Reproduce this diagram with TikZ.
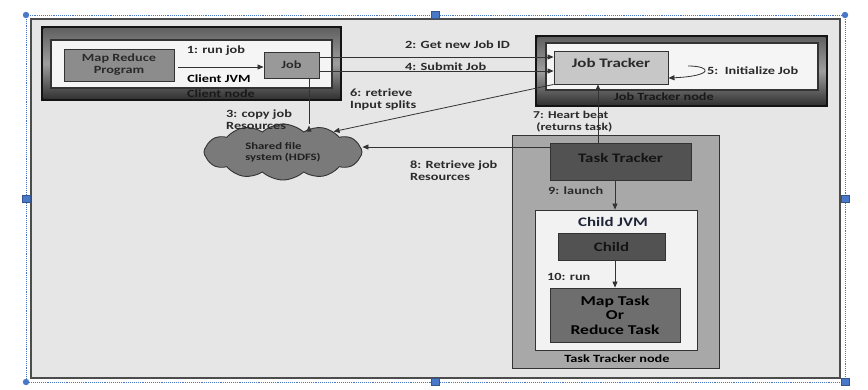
\documentclass[tikz,border=0pt]{standalone}
\usepackage{fontspec}
\setmainfont{Carlito}[FakeStretch=1.3]
\usetikzlibrary{arrows.meta,shapes.symbols,calc}
\definecolor{bg}{HTML}{E6E6E6}
\definecolor{ln}{HTML}{333333}
\definecolor{txt}{HTML}{2A2A2A}
\definecolor{selb}{HTML}{4A78C8}
\definecolor{navy}{HTML}{1E2538}
\begin{document}
\begin{tikzpicture}[x=1pt,y=-1pt,
  lbl/.style={font=\fontsize{11}{12}\selectfont\bfseries, text=txt, inner sep=0pt, align=left},
  arr/.style={draw=ln, line width=0.8pt, -{Triangle[length=6pt,width=5pt]}},
  box/.style={draw=ln, line width=0.9pt, inner sep=0pt, text=txt},
  inbox/.style={draw=black!80, line width=1.1pt, fill=white!96!black, inner sep=0pt},
  bevel/.style={top color=black!62, bottom color=black!80, middle color=black!38},
  handlesq/.style={fill=selb, draw=selb!70!black, line width=0.3pt},
  bigtxt/.style={font=\fontsize{13}{14}\selectfont\bfseries}]
\useasboundingbox (0,0) rectangle (868,389);
\fill[white] (0,0) rectangle (868,389);
% canvas
\fill[bg] (31,19) rectangle (840,378);
\draw[black!70, line width=1.2pt] (31,19) rectangle (840,378);
% selection frame
\draw[selb, line width=0.9pt, densely dotted] (26,15) rectangle (845,382);
\foreach \p in {(26,15),(845,15),(26,382)} \fill[selb] \p circle (3.2);
\foreach \p in {(435,15),(26,199),(845,199),(435,382),(845,382)}
  \filldraw[handlesq] \p ++(-4,-3.5) rectangle ++(8,7);

% Client node
\fill[black!92] (41,26) rectangle (342,101);
\shade[bevel] (43.5,28.5) rectangle (339.5,98.5);
\node[inbox, minimum width=281, minimum height=48] (cjv) at (191.5,64) {};
\node[lbl, text=black!90] (cnl) at (221,94) {Client node};
\node[box, fill=black!45, minimum width=110, minimum height=32, align=center, font=\fontsize{11}{12}\selectfont\bfseries] (mrp) at (119,65) {Map Reduce\\Program};
\node[box, fill=black!40, minimum width=55, minimum height=26, font=\fontsize{11}{12}\selectfont\bfseries] (job) at (291.5,65) {Job};
\node[lbl] (l1) at (216,51) {1: run job};
\node[lbl, text=black] (l1b) at (219,79) {Client JVM};
\draw[arr] (mrp.east |- 0,67) ++(4,0) coordinate (a1) -- (job.west |- a1);

% Job Tracker node
\fill[black!92] (535,35) rectangle (828,107);
\shade[bevel] (537.5,37.5) rectangle (825.5,104.5);
\node[inbox, minimum width=272, minimum height=47] (jtn) at (682,66.5) {};
\node[lbl, text=black!90] (jtl) at (664,97) {Job Tracker node};
\node[box, fill=black!22, minimum width=114, minimum height=33, bigtxt, text depth=9pt] (jt) at (611,67.5) {Job Tracker};
\node[lbl, anchor=west] (l5) at (707,71) {5:\ \ Initialize Job};
\draw[arr] (l5.west) ++(-19,-5) coordinate (c5) .. controls (712,66) and (714,76) .. (jt.east |- 0,78);

% Job -> Job Tracker
\draw[arr] (job.east |- 0,57) -- (jt.west |- 0,57);
\draw[arr] (job.east |- 0,71) -- (jt.west |- 0,71);
\node[lbl, anchor=west] (l2) at (405,45) {2: Get new Job ID};
\node[lbl, anchor=west] (l4) at (405,67) {4: Submit Job};

% HDFS
\node[cloud, cloud puffs=12, cloud puff arc=85, cloud ignores aspect, draw=ln, line width=0.9pt, fill=black!52,
  minimum width=158, minimum height=56, inner sep=0pt, align=left,
  font=\fontsize{9.8}{11}\selectfont\bfseries, text=black!88] (hdfs) at (283,152) {Shared file\\system (HDFS)};
\draw[arr] (job.south -| 309,0) -- (hdfs.north -| 309,0) ++(0,2);
\node[lbl, anchor=west] (l3) at (226,120) {3: copy job\\Resources};
\draw[arr] (jt.south west) -- (hdfs.22);
\node[lbl, anchor=west] (l6) at (350,99.5) {6: retrieve\\Input splits};

% Task Tracker node
\node[box, fill=black!34, minimum width=207, minimum height=233] (ttn) at (615.5,251.5) {};
\node[box, fill=black!68, minimum width=141, minimum height=37, bigtxt, text=black!92, text depth=8pt] (tt) at (620.5,161.5) {Task Tracker};
\node[box, fill=white!95!black, minimum width=162, minimum height=140] (cjvm) at (616,280) {};
\node[font=\fontsize{13}{14}\selectfont\bfseries, text=navy] (cjl) at (613,222) {Child JVM};
\node[box, fill=black!68, minimum width=107, minimum height=27, bigtxt, text=black!92] (child) at (611.5,246.5) {Child};
\node[box, fill=black!57, minimum width=130, minimum height=54, align=center,
  font=\fontsize{13.5}{14.5}\selectfont\bfseries, text=black] (mt) at (615,315) {Map Task\\Or\\Reduce Task};
\node[lbl, text=black] (ttl) at (617,359) {Task Tracker node};

\draw[arr] (tt.north -| 598,0) -- (jt.south -| 598,0);
\node[lbl, anchor=west, font=\fontsize{10.5}{11.5}\selectfont\bfseries] (l7) at (533,121.5) {7: Heart beat\\\ (returns task)};
\draw[arr] (tt.west |- 0,147) -- (hdfs.east |- 0,147);
\node[lbl, anchor=west] (l8) at (410,171) {8: Retrieve job\\Resources};
\draw[arr] (tt.south -| 615,0) -- (cjvm.north -| 615,0);
\node[lbl, anchor=west] (l9) at (548,191) {9: launch};
\draw[arr] (child.south -| 615,0) -- (mt.north -| 615,0);
\node[lbl, anchor=west] (l10) at (547,277) {10: run};
\end{tikzpicture}
\end{document}
